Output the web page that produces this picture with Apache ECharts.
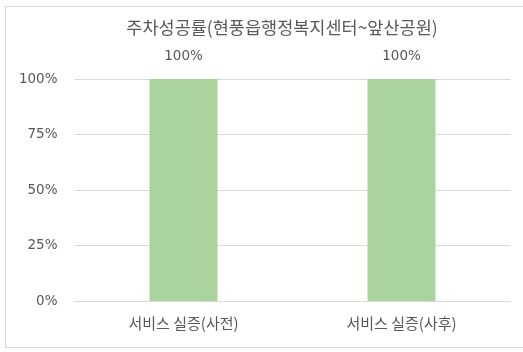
<!DOCTYPE html>
<html>
<head>
<meta charset="utf-8">
<script src="https://cdn.jsdelivr.net/npm/echarts@6/dist/echarts.min.js"></script>
<style>
  html, body { margin: 0; padding: 0; background: #ffffff; }
  #frame { position: absolute; left: 5px; top: 6px; width: 530px; height: 342px;
           border: 1px solid #d9d9d9; box-sizing: border-box; }
  #chart { position: absolute; left: 0; top: 0; width: 523px; height: 352px; }
</style>
</head>
<body>
<div id="frame"></div>
<div id="chart"></div>
<script>
// Parking success rate before and after the service trial
const titleText = '주차성공률(현풍읍행정복지센터~앞산공원)';
const categories = ['서비스 실증(사전)', '서비스 실증(사후)'];
const successRate = [100, 100];
const yTicks = [0, 25, 50, 75, 100];

const krFont = '"Noto Sans CJK KR", "Noto Sans", sans-serif';
const numFont = '"DejaVu Sans", "Noto Sans", sans-serif';
const chart = echarts.init(document.getElementById('chart'), null, { renderer: 'canvas' });

chart.setOption({
  backgroundColor: 'transparent',
  animation: false,
  title: {
    text: titleText,
    left: 277,
    top: 14,
    textAlign: 'center',
    textStyle: { fontFamily: krFont, fontSize: 17.5, fontWeight: 'normal', color: '#595959' }
  },
  grid: { left: 74.5, right: 12.5, top: 79, bottom: 51, containLabel: false },
  xAxis: {
    type: 'category',
    data: categories,
    axisLine: { lineStyle: { color: '#d9d9d9' } },
    axisTick: { show: false },
    axisLabel: { fontFamily: krFont, fontSize: 15, color: '#595959', margin: 15 }
  },
  yAxis: {
    type: 'value',
    min: yTicks[0],
    max: yTicks[yTicks.length - 1],
    interval: yTicks[1] - yTicks[0],
    axisLine: { show: false },
    axisTick: { show: false },
    splitLine: { lineStyle: { color: '#d9d9d9' } },
    axisLabel: {
      fontFamily: numFont, fontSize: 13.5, color: '#595959', margin: 17,
      formatter: v => v + '%'
    }
  },
  series: [{
    type: 'bar',
    data: successRate,
    barWidth: 68,
    itemStyle: { color: '#abd39e' },
    label: {
      show: true,
      position: 'top',
      distance: 16,
      fontFamily: numFont, fontSize: 13.5, color: '#595959',
      formatter: p => p.value + '%'
    }
  }]
});
</script>
</body>
</html>
